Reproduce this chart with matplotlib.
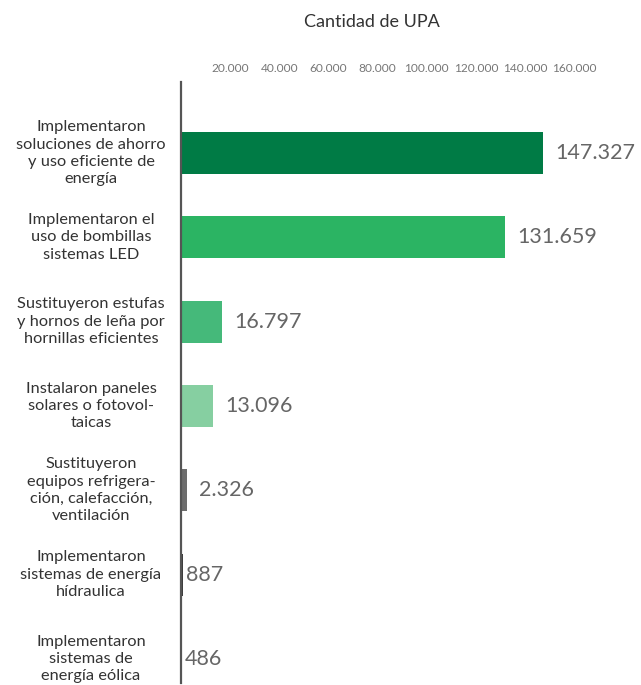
import matplotlib
matplotlib.use("Agg")
import matplotlib.pyplot as plt
import matplotlib.transforms as mtransforms
from matplotlib.ticker import FuncFormatter

plt.rcParams['font.family'] = ['Lato', 'DejaVu Sans']

categories = [
    "Implementaron\nsoluciones de ahorro\ny uso eficiente de\nenergía",
    "Implementaron el\nuso de bombillas\nsistemas LED",
    "Sustituyeron estufas\ny hornos de leña por\nhornillas eficientes",
    "Instalaron paneles\nsolares o fotovol-\ntaicas",
    "Sustituyeron\nequipos refrigera-\nción, calefacción,\nventilación",
    "Implementaron\nsistemas de energía\nhídraulica",
    "Implementaron\nsistemas de\nenergía eólica",
]
values = [147327, 131659, 16797, 13096, 2326, 887, 486]
bar_colors = ["#007B45", "#2BB463", "#45B97A", "#86CFA1", "#6D6D6D", "#3C3C3C", "#A0A0A0"]
tick_values = [20000, 40000, 60000, 80000, 100000, 120000, 140000, 160000]
axis_title = "Cantidad de UPA"


def miles(v, _pos=None):
    return f"{int(v):,}".replace(",", ".")


fig = plt.figure(figsize=(6.41, 6.85), dpi=100)
ax = fig.add_axes([181 / 641, 0.003, 1 - 181 / 641, 0.877])

ypos = list(range(len(values)))
ax.barh(ypos, values, height=0.498, color=bar_colors, zorder=2)

ax.set_xlim(0, 187200)
ax.set_ylim(6.285, -0.842)

ax.xaxis.tick_top()
ax.set_xticks(tick_values)
ax.xaxis.set_major_formatter(FuncFormatter(miles))
ax.tick_params(axis='x', length=0, pad=6, labelsize=8.6, labelcolor="#777777")
ax.set_yticks([])

for side in ["top", "right", "bottom"]:
    ax.spines[side].set_visible(False)
ax.spines["left"].set_color("#555555")
ax.spines["left"].set_linewidth(1.6)
ax.spines["left"].set_zorder(3)

# value labels at the end of each bar
for y, v in zip(ypos, values):
    off = 9 if v >= 1000 else 2
    ax.annotate(miles(v), xy=(v, y), xytext=(off, 0), textcoords="offset points",
                va="center", ha="left", fontsize=15.5, color="#666666")

# category labels centred in the left margin
trans = mtransforms.blended_transform_factory(fig.transFigure, ax.transData)
for y, label in zip(ypos, categories):
    ax.text(91 / 641, y, label, transform=trans, ha="center", va="center",
            fontsize=11.8, color="#333333", linespacing=1.3)

fig.text(372 / 641, 1 - 22 / 685, axis_title, ha="center", va="center",
         fontsize=13, color="#333333")

fig.savefig("out.png", dpi=100)
